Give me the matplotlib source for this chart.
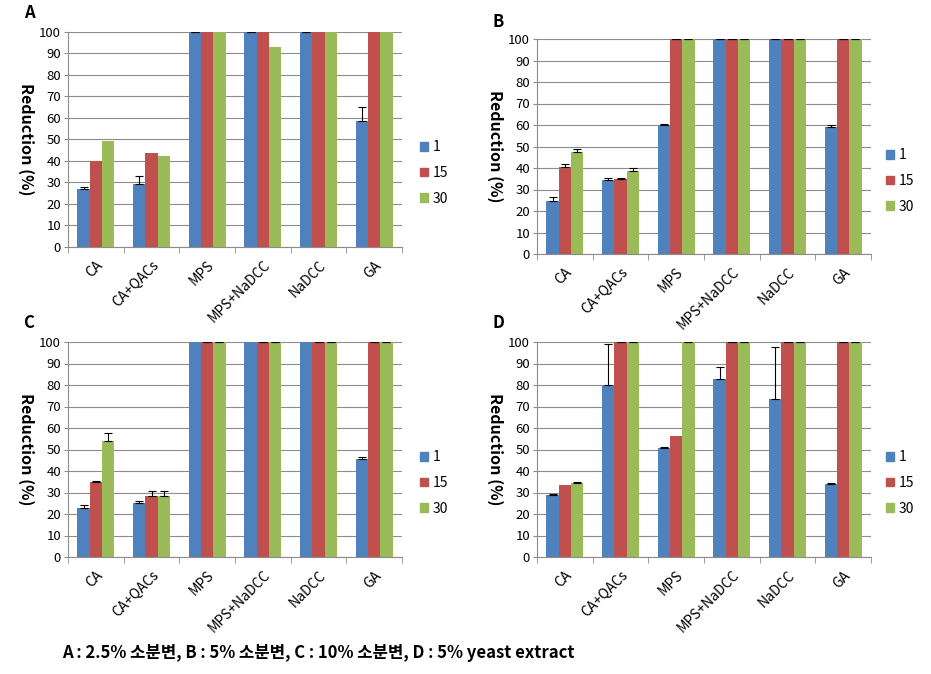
import numpy as np
import matplotlib.pyplot as plt
from matplotlib.patches import Patch

plt.rcParams['font.family'] = ['Noto Sans CJK KR', 'DejaVu Sans']

categories = ['CA', 'CA+QACs', 'MPS', 'MPS+NaDCC', 'NaDCC', 'GA']
series = ['1', '15', '30']
colors = ['#4F81BD', '#C0504D', '#9BBB59']
nan = np.nan

# values per panel: rows = series (1, 15, 30), columns = categories
a_vals = [[27, 29.5, 100, 100, 100, 58.5],
          [40, 43.5, 100, 100, 100, 100],
          [49.5, 42.5, 100, 93, 100, 100]]
a_err = [[1, 3.5, 0, 0, 0, 6.5],
         [nan, nan, nan, nan, nan, nan],
         [nan, nan, nan, nan, nan, nan]]

b_vals = [[24.5, 34.5, 60, 100, 100, 59],
          [40.5, 35, 100, 100, 100, 100],
          [47.5, 38.5, 100, 100, 100, 100]]
b_err = [[2, 1, 0.4, 0, 0, 0.8],
         [1.5, 0.3, 0, 0, 0, 0],
         [1.5, 1.5, 0, 0, 0, 0]]

c_vals = [[23, 25, 100, 100, 100, 45.5],
          [35, 28.5, 100, 100, 100, 100],
          [54, 28.5, 100, 100, 100, 100]]
c_err = [[1, 1, nan, nan, nan, 1],
         [0.3, 2, 0, 0, 0, 0],
         [3.5, 2, 0, 0, 0, 0]]

d_vals = [[29, 80, 50.5, 83, 73.5, 34],
          [33.5, 100, 56.5, 100, 100, 100],
          [34.5, 100, 100, 100, 100, 100]]
d_err = [[0.4, 19, 0.7, 5.5, 24, 0.5],
         [nan, 0, nan, 0, 0, 0],
         [0.3, 0, 0, 0, 0, 0]]

panels = [('A', a_vals, a_err, [68, 32, 402, 247], 13, 420, 150),
          ('B', b_vals, b_err, [537, 39, 871, 254], 22, 886, 158),
          ('C', c_vals, c_err, [68, 342, 402, 557], 323, 420, 460),
          ('D', d_vals, d_err, [537, 342, 871, 557], 323, 886, 460)]

W, H = 931, 674
fig = plt.figure(figsize=(W / 100, H / 100), dpi=100)

x = np.arange(len(categories))
bw = 0.22

for letter, vals, errs, box, ly, legx, legy in panels:
    l, t, r, b = box
    ax = fig.add_axes([l / W, 1 - b / H, (r - l) / W, (b - t) / H])
    for i in range(3):
        xs = x + (i - 1) * bw
        v = np.array(vals[i], dtype=float)
        e = np.array(errs[i], dtype=float)
        ax.bar(xs, v, bw, color=colors[i], zorder=2)
        m = ~np.isnan(e)
        ax.errorbar(xs[m], v[m], yerr=[np.zeros(m.sum()), e[m]], fmt='none',
                    ecolor='black', elinewidth=0.8, capsize=3, capthick=0.8, zorder=3)
    ax.set_xlim(-0.5, 5.5)
    ax.set_ylim(0, 100)
    ax.set_yticks(np.arange(0, 101, 10))
    ax.yaxis.grid(True, color='#8c8c8c', linewidth=0.8, zorder=0)
    ax.set_axisbelow(True)
    for s in ['top', 'right']:
        ax.spines[s].set_visible(False)
    for s in ['left', 'bottom']:
        ax.spines[s].set_color('#8c8c8c')
        ax.spines[s].set_linewidth(0.8)
    ax.set_xticks(x)
    ax.set_xticklabels(categories, rotation=45, ha='right', rotation_mode='anchor',
                       fontsize=10)
    ax.set_xticks(np.arange(-0.5, 6, 1), minor=True)
    ax.tick_params(axis='x', which='major', length=0, pad=8)
    ax.tick_params(axis='x', which='minor', length=4, color='#8c8c8c')
    ax.tick_params(axis='y', length=3, color='#8c8c8c', labelsize=9.5, pad=2)
    ax.set_ylabel('Reduction (%)', rotation=270, fontsize=11.5, fontweight='bold')
    ax.yaxis.set_label_coords(-0.15, 0.5)

    fig.text((l - 39) / W, 1 - ly / H, letter, fontsize=12, fontweight='bold',
             ha='center', va='center')

    handles = [Patch(color=c) for c in colors]
    fig.legend(handles, series, loc='upper left', frameon=False, fontsize=10,
               bbox_to_anchor=(legx / W, 1 - (legy - 10) / H),
               handlelength=0.6, handleheight=0.6, handletextpad=0.3,
               labelspacing=0.85, borderpad=0, borderaxespad=0)

fig.text(62 / W, 1 - 653 / H,
         'A : 2.5% 소분변, B : 5% 소분변, C : 10% 소분변, D : 5% yeast extract',
         fontsize=12, fontweight='bold', ha='left', va='center')

fig.savefig('out.png', dpi=100)
